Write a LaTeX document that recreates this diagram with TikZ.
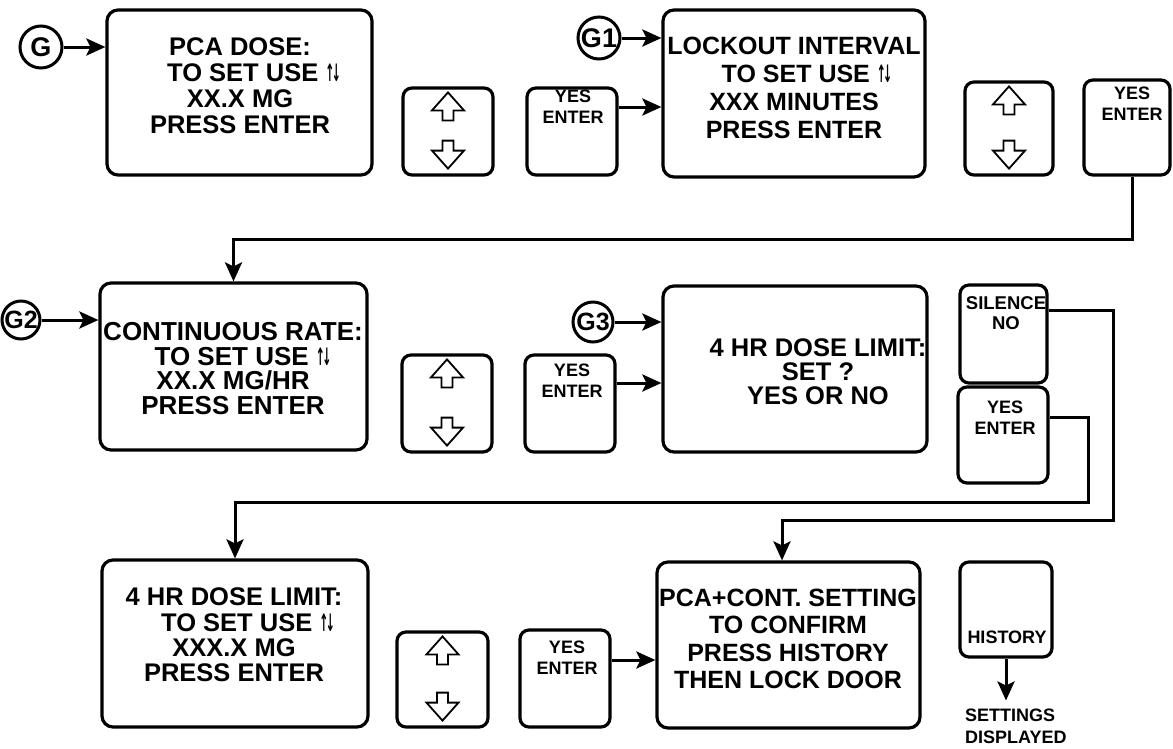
\documentclass[tikz,border=0pt]{standalone}
\usepackage{fontspec}
\setmainfont{Liberation Sans}
\newfontfamily\djv{DejaVu Sans}
\usetikzlibrary{arrows.meta,calc}
\newcommand\updn{{\djv\bfseries\fontsize{24}{24}\selectfont\scalebox{0.45}[1]{↑\kern-6pt↓}}}
\newcommand\udglyphs[1]{%
  \draw[hollow] ([yshift=-6pt]#1.north) -- ++(16,18) -- ++(-10.5,0) -- ++(0,10) -- ++(-11,0) -- ++(0,-10) -- ++(-10.5,0) -- cycle;
  \draw[hollow] ([yshift=8pt]#1.south) -- ++(16,-18) -- ++(-10.5,0) -- ++(0,-10) -- ++(-11,0) -- ++(0,10) -- ++(-10.5,0) -- cycle;}
\tikzset{
  scr/.style={draw, line width=3.2pt, rounded corners=11pt, inner sep=0pt},
  key/.style={draw, line width=3.2pt, rounded corners=9pt, inner sep=0pt},
  conn/.style={line width=3pt},
  arr/.style={conn, -{Stealth[length=19pt,width=17pt,inset=4pt]}},
  gcirc/.style={draw, circle, line width=3pt, minimum size=42pt, inner sep=0pt, font=\fontsize{27}{27}\selectfont\bfseries},
  scrtxt/.style={align=center, inner sep=0pt, font=\fontsize{25.5}{26}\selectfont\bfseries},
  keytxt/.style={align=center, inner sep=0pt, font=\fontsize{18}{21}\selectfont\bfseries},
  hollow/.style={line width=1.8pt, line join=miter},
}
\begin{document}
\begin{tikzpicture}[x=1pt,y=-1pt]
\useasboundingbox (0,0) rectangle (1173,748);
\fill[white] (0,0) rectangle (1173,748);

% entry circles
\node[gcirc] (G)  at (41,47)  {G};
\node[gcirc] (G1) at (599,38) {G1};
\node[gcirc, minimum size=38pt, font=\fontsize{25}{25}\selectfont\bfseries] (G2) at (21,320) {G2};
\node[gcirc, minimum size=40pt, font=\fontsize{25}{25}\selectfont\bfseries] (G3) at (593,322) {G3};

% screens
\node[scr, minimum width=265pt, minimum height=165pt] (pca)  at (239.5,92.5) {};
\node[scr, minimum width=262pt, minimum height=167pt] (lock) at (794,93.5) {};
\node[scr, minimum width=267pt, minimum height=167pt] (cont) at (233.5,366.5) {};
\node[scr, minimum width=264pt, minimum height=166pt] (ask)  at (795,369) {};
\node[scr, minimum width=266pt, minimum height=167pt] (lim)  at (235,643.5) {};
\node[scr, minimum width=263pt, minimum height=166pt] (fin)  at (788.5,645) {};

% screen texts
\node[scrtxt] (pcat)  at (240,86)  {PCA DOSE:\\\hspace*{28pt}TO SET USE \updn\\XX.X MG\\PRESS ENTER};
\node[scrtxt, font=\fontsize{25}{28}\selectfont\bfseries] (lockt) at (794,88) {LOCKOUT INTERVAL\\\hspace*{26pt}TO SET USE \updn\\XXX MINUTES\\PRESS ENTER};
\node[scrtxt, font=\fontsize{26}{24.5}\selectfont\bfseries] (contt) at (233,368.5) {CONTINUOUS RATE:\\\hspace*{20pt}TO SET USE \updn\\XX.X MG/HR\hspace*{18pt}\\PRESS ENTER};
\node[scrtxt, font=\fontsize{25.5}{24}\selectfont\bfseries] (askt) at (818,372) {4 HR DOSE LIMIT:\\SET ?\\YES OR NO};
\node[scrtxt, font=\fontsize{25.5}{25.3}\selectfont\bfseries] (limt) at (234,635) {4 HR DOSE LIMIT:\\\hspace*{28pt}TO SET USE \updn\\XXX.X MG\\PRESS ENTER};
\node[scrtxt, font=\fontsize{25}{27.3}\selectfont\bfseries] (fint) at (788,639) {PCA+CONT. SETTING\\TO CONFIRM\\PRESS HISTORY\\THEN LOCK DOOR};

% up/down keys
\node[key, minimum width=90pt, minimum height=87pt] (ud1) at (448,131.5) {};
\node[key, minimum width=88pt, minimum height=93pt] (ud2) at (1009,128.5) {};
\node[key, minimum width=90pt, minimum height=97pt] (ud3) at (447,403.5) {};
\node[key, minimum width=91pt, minimum height=95pt] (ud4) at (442.5,679.5) {};
\udglyphs{ud1}
\udglyphs{ud2}
\udglyphs{ud3}
\udglyphs{ud4}

% yes/enter and other keys
\node[key, minimum width=90pt, minimum height=87pt] (yes1) at (572,131.5) {};
\node[key, minimum width=86pt, minimum height=95pt] (yes2) at (1127,127.5) {};
\node[key, minimum width=90pt, minimum height=97pt] (yes3) at (570,403.5) {};
\node[key, minimum width=87pt, minimum height=98pt] (sil)  at (1003.5,334) {};
\node[key, minimum width=90pt, minimum height=96pt] (yes4) at (1003,435) {};
\node[key, minimum width=90pt, minimum height=97pt] (yes5) at (565,678.5) {};
\node[key, minimum width=92pt, minimum height=95pt] (hist) at (1006,609.5) {};

\node[keytxt] (yes1t) at (573,106.5) {YES\\ENTER};
\node[keytxt] (yes2t) at (1132,104) {YES\\ENTER};
\node[keytxt] (yes3t) at (572,381) {YES\\ENTER};
\node[keytxt, font=\fontsize{18.5}{20}\selectfont\bfseries] (silt) at (1006,313) {SILENCE\\NO};
\node[keytxt] (yes4t) at (1005,417.5) {YES\\ENTER};
\node[keytxt] (yes5t) at (567,657.5) {YES\\ENTER};
\node[keytxt] (histt) at (1007,637) {HISTORY};
\node[keytxt, align=left, font=\fontsize{18}{22}\selectfont\bfseries, anchor=north west] (setd) at (965,708.5) {SETTINGS\\DISPLAYED};

% connectors
\draw[arr] (G)  -- (G -| pca.west);
\draw[arr] (G1) -- (G1 -| lock.west);
\draw[arr] ([yshift=24.5pt]yes1.east) -- ([yshift=24.5pt]yes1.east -| lock.west);
\draw[arr] ([xshift=5pt]yes2.south) -- ++(0,63) -| (cont.north);
\draw[arr] (G2) -- (G2 -| cont.west);
\draw[arr] (G3) -- (G3 -| ask.west);
\draw[arr] ([yshift=20.5pt]yes3.east) -- ([yshift=20.5pt]yes3.east -| ask.west);
\draw[arr] ([yshift=24pt]sil.east) -| ++(65,210) -| ([xshift=-6.5pt]fin.north);
\draw[arr] ([yshift=18pt]yes4.east) -| ++(39,85) -| (lim.north);
\draw[arr] ([yshift=18.5pt]yes5.east) -- ([yshift=18.5pt]yes5.east -| fin.west);
\draw[arr, shorten >=8pt] (hist.south) -- (hist.south |- setd.north);
\end{tikzpicture}
\end{document}
